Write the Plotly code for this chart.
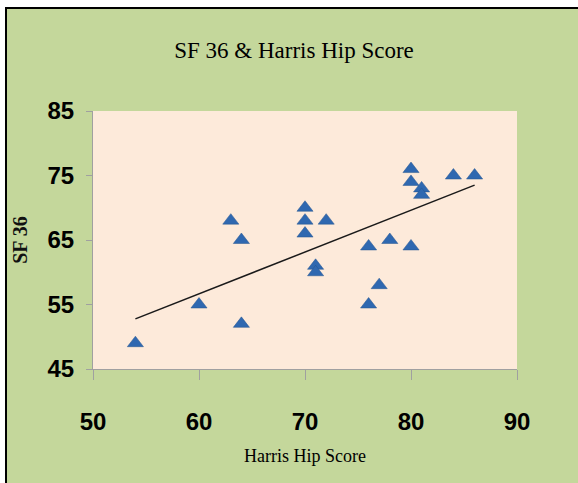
import numpy as np
import plotly.graph_objects as go

harris_hip = [54, 60, 63, 64, 64, 70, 70, 70, 71, 71, 72, 76, 76, 77, 78, 80, 80, 80, 81, 81, 84, 86]
sf36 = [49, 55, 68, 65, 52, 70, 68, 66, 61, 60, 68, 64, 55, 58, 65, 64, 76, 74, 73, 72, 75, 75]
x_ticks = [50, 60, 70, 80, 90]
y_ticks = [45, 55, 65, 75, 85]

W, H = 578, 483
L, R, T, B = 93, 517, 111, 369

# linear trendline (least squares, like Excel)
slope, intercept = np.polyfit(harris_hip, sf36, 1)
tx = [min(harris_hip), max(harris_hip)]
ty = [slope * v + intercept for v in tx]

fig = go.Figure()
fig.add_trace(go.Scatter(
    x=tx, y=ty, mode="lines",
    line=dict(color="#1a1a1a", width=1.5),
    hoverinfo="skip", showlegend=False,
))
fig.add_trace(go.Scatter(
    x=harris_hip, y=sf36, mode="markers",
    marker=dict(symbol="triangle-up", size=14, color="#2F68B0",
                line=dict(color="#24548f", width=0.5)),
    showlegend=False,
))

def px_x(p):
    return (p - L) / (R - L)

def px_y(p):
    return (B - p) / (B - T)

fig.update_layout(
    width=W, height=H,
    margin=dict(l=L, r=W - R, t=T, b=H - B, autoexpand=False),
    paper_bgcolor="white",
    plot_bgcolor="#FDEADA",
    shapes=[
        dict(type="rect", xref="paper", yref="paper", layer="below",
             x0=px_x(6), x1=px_x(W + 20), y0=px_y(H + 20), y1=px_y(8),
             fillcolor="#C4D79B", line=dict(color="black", width=2)),
        dict(type="rect", xref="paper", yref="paper", layer="below",
             x0=0, x1=1, y0=0, y1=1,
             fillcolor="#FDEADA", line=dict(width=0)),
    ],
    title=dict(
        text="SF 36 &amp; Harris Hip Score",
        x=294 / W, xanchor="center",
        y=1 - 50 / H, yanchor="middle", yref="container",
        font=dict(family="Liberation Serif", size=23, color="#000"),
    ),
    xaxis=dict(
        range=[50, 90], tickvals=x_ticks, ticktext=[str(v) for v in x_ticks],
        showgrid=False, zeroline=False, automargin=False,
        showline=True, linecolor="#a0a0a0", linewidth=1,
        ticks="outside", ticklen=10, tickcolor="#a0a0a0",
        ticklabelstandoff=21,
        tickfont=dict(family="Liberation Sans Narrow, Arial", size=24, color="black", weight="bold"),
        title=dict(text="Harris Hip Score", standoff=15,
                   font=dict(family="Liberation Serif", size=18, color="#000")),
    ),
    yaxis=dict(
        range=[45, 85], tickvals=y_ticks, ticktext=[str(v) for v in y_ticks],
        showgrid=False, zeroline=False, automargin=False,
        showline=True, linecolor="#a0a0a0", linewidth=1,
        ticks="outside", ticklen=6, tickcolor="#a0a0a0",
        ticklabelstandoff=7,
        tickfont=dict(family="Liberation Sans Narrow, Arial", size=24, color="black", weight="bold"),
        title=dict(text="SF 36", standoff=14,
                   font=dict(family="Liberation Serif", size=20, color="#111", weight="bold")),
    ),
)

fig.write_html("out.html", config={"displayModeBar": False},
               post_script="document.body.style.margin='0';")
